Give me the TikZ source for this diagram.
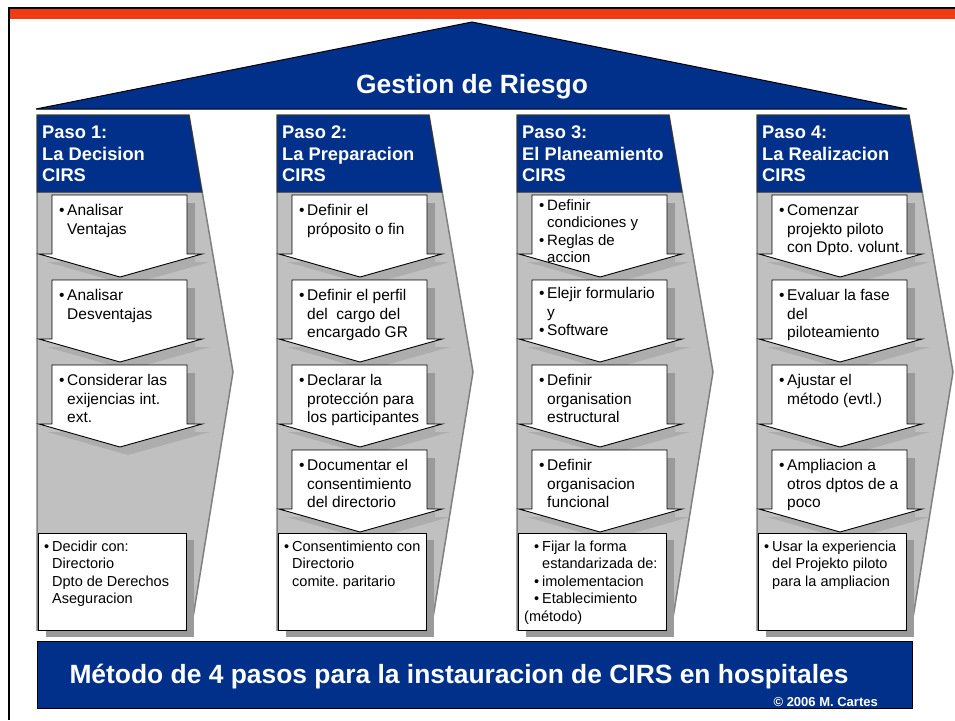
\documentclass[tikz,border=0pt]{standalone}
\usepackage{fontspec}
\setmainfont{Liberation Sans}
\usepackage{tikz}
\usetikzlibrary{positioning,calc}
\frenchspacing
\definecolor{cirsblue}{HTML}{00308A}
\definecolor{cirsred}{HTML}{F03C14}
\definecolor{colgray}{HTML}{C0C0C0}
\definecolor{coledge}{HTML}{808080}
\definecolor{shadegray}{HTML}{9A9A9A}
\definecolor{shadelight}{HTML}{ADADAD}
\tikzstyle{colbody} = [fill=colgray, draw=coledge, line width=1.5pt]
\tikzstyle{colhead} = [fill=cirsblue, draw=gray!40!black, line width=1pt]
\tikzstyle{box1} = [fill=white, draw=black, line width=0.9pt]
\tikzstyle{shade0} = [fill=shadegray]
\tikzstyle{shade1} = [fill=shadelight]
\tikzstyle{txt1} = [anchor=north west, inner sep=0pt, align=left, %
   font=\fontsize{15.5}{18.5}\selectfont]
\tikzstyle{txt2} = [anchor=north west, inner sep=0pt, align=left, %
   font=\fontsize{14.5}{17.5}\selectfont]
\tikzstyle{headtxt} = [anchor=north west, inner sep=0pt, align=left, text=white, %
   font=\bfseries\fontsize{18.3}{21.5}\selectfont]
\tikzstyle{bigtxt} = [anchor=base, inner sep=0pt, text=white, %
   font=\bfseries\fontsize{26.4}{30}\selectfont]
\newcommand{\bl}[1]{\makebox[8pt][l]{\textbullet}#1}
\newcommand{\ind}[1]{\hspace*{8pt}#1}
% column: left x
\newcommand{\paso}[1]{%
   \filldraw[colbody] (#1,115) -- (#1+152,115) -- (#1+196,372) -- (#1+154,630) -- (#1,630) -- cycle;
   \filldraw[colhead] (#1,115) -- (#1+152,115) -- (#1+165,192) -- (#1,192) -- cycle;
}
% arrow box: left x, top y, name, text
\newcommand{\stepbox}[5][]{%
   \fill[shade1] (#2+8,#3+8) -- ++(135,0) -- ++(0,59) -- ++(15,0) -- ++(-82,23) -- ++(-81,-23) -- ++(13,0) -- cycle;
   \fill[shade0] (#2+8,#3+8) rectangle ++(135,51);
   \filldraw[box1] (#2,#3) -- ++(135,0) -- ++(0,59) -- ++(15,0) -- ++(-82,23) -- ++(-81,-23) -- ++(13,0) -- cycle;
   \node[txt1,#1] (#4) at (#2+7,#3+9.5) {#5};
}
% last box: left x, name, text
\newcommand{\finalbox}[3]{%
   \fill[shade0] (#1+8,540) rectangle ++(148,97);
   \filldraw[box1] (#1,533) rectangle ++(148,97);
   \node[txt2] (#2) at (#1+6,540.5) {#3};
}

\begin{document}
\begin{tikzpicture}[x=1pt, y=-1pt]
   \useasboundingbox (0,0) rectangle (955,720);
   \fill[white] (0,0) rectangle (955,720);

% Frame and roof %%%%%%%%%%%%%%%%%%%%%%%%%%%%%%%%%%%%%%%%%%%%%%%%%%%%%
   \fill[black] (8,7) rectangle (955,9);
   \fill[black] (8,7) rectangle (10,720);
   \fill[cirsred] (10,9) rectangle (955,19);
   \filldraw[fill=cirsblue, draw=black, line width=1pt] (36,109) -- (472,22) -- (907,109) -- cycle;
   \node[bigtxt] (Riesgo) at (472,93) {Gestion de Riesgo};

% Columns %%%%%%%%%%%%%%%%%%%%%%%%%%%%%%%%%%%%%%%%%%%%%%%%%%%%%%%%%%%%
   \paso{37}
   \paso{277}
   \paso{517}
   \paso{757}

   \node[headtxt] (Decision) at (42,126) {Paso 1:\\La Decision\\CIRS};
   \node[headtxt] (Preparacion) at (282,126) {Paso 2:\\La Preparacion\\CIRS};
   \node[headtxt] (Planeamiento) at (522,126) {Paso 3:\\El Planeamiento\\CIRS};
   \node[headtxt] (Realizacion) at (762,126) {Paso 4:\\La Realizacion\\CIRS};

% Paso 1 %%%%%%%%%%%%%%%%%%%%%%%%%%%%%%%%%%%%%%%%%%%%%%%%%%%%%%%%%%%%%
   \stepbox{52}{195}{Ventajas}{\bl{Analisar}\\\ind{Ventajas}}
   \stepbox{52}{280}{Desventajas}{\bl{Analisar}\\\ind{Desventajas}}
   \stepbox{52}{365}{Exijencias}{\bl{Considerar las}\\\ind{exijencias int.}\\\ind{ext.}}
   \finalbox{38}{DecidirCon}{\bl{Decidir con:}\\\ind{Directorio}\\\ind{Dpto de Derechos}\\\ind{Aseguracion}}

% Paso 2 %%%%%%%%%%%%%%%%%%%%%%%%%%%%%%%%%%%%%%%%%%%%%%%%%%%%%%%%%%%%%
   \stepbox{292}{195}{Proposito}{\bl{Definir el}\\\ind{próposito o fin}}
   \stepbox{292}{280}{Perfil}{\bl{Definir el perfil}\\\ind{del \ cargo del}\\\ind{encargado GR}}
   \stepbox{292}{365}{Proteccion}{\bl{Declarar la}\\\ind{protección para}\\\ind{los participantes}}
   \stepbox{292}{450}{Documentar}{\bl{Documentar el}\\\ind{consentimiento}\\\ind{del directorio}}
   \finalbox{278}{ConsDirectorio}{\bl{Consentimiento con}\\\ind{Directorio}\\\ind{comite. paritario}}

% Paso 3 %%%%%%%%%%%%%%%%%%%%%%%%%%%%%%%%%%%%%%%%%%%%%%%%%%%%%%%%%%%%%
   \stepbox[yshift=5pt, font=\fontsize{15}{17.3}\selectfont]{532}{195}{Condiciones}{%
      \bl{Definir}\\\ind{condiciones y}\\\bl{Reglas de}\\\ind{accion}}
   \stepbox[yshift=2pt]{532}{280}{Formulario}{\bl{Elejir formulario}\\\ind{y}\\\bl{Software}}
   \stepbox{532}{365}{OrgEstructural}{\bl{Definir}\\\ind{organisation}\\\ind{estructural}}
   \stepbox{532}{450}{OrgFuncional}{\bl{Definir}\\\ind{organisacion}\\\ind{funcional}}
   \finalbox{518}{FormaEst}{\hspace*{10pt}\bl{Fijar la forma}\\\hspace*{10pt}\ind{estandarizada de:}\\%
      \hspace*{10pt}\bl{imolementacion}\\\hspace*{10pt}\bl{Etablecimiento}\\(método)}

% Paso 4 %%%%%%%%%%%%%%%%%%%%%%%%%%%%%%%%%%%%%%%%%%%%%%%%%%%%%%%%%%%%%
   \stepbox{772}{195}{Piloto}{\bl{Comenzar}\\\ind{projekto piloto}\\\ind{con Dpto. volunt.}}
   \stepbox{772}{280}{EvalFase}{\bl{Evaluar la fase}\\\ind{del}\\\ind{piloteamiento}}
   \stepbox{772}{365}{Ajustar}{\bl{Ajustar el}\\\ind{método (evtl.)}}
   \stepbox{772}{450}{Ampliacion}{\bl{Ampliacion a}\\\ind{otros dptos de a}\\\ind{poco}}
   \finalbox{758}{Experiencia}{\bl{Usar la experiencia}\\\ind{del Projekto piloto}\\\ind{para la ampliacion}}

% Banner %%%%%%%%%%%%%%%%%%%%%%%%%%%%%%%%%%%%%%%%%%%%%%%%%%%%%%%%%%%%%
   \filldraw[fill=cirsblue, draw=black, line width=1pt] (37,641) rectangle (912,708);
   \node[bigtxt] (Metodo) at (459,683) {Método de 4 pasos para la instauracion de CIRS en hospitales};
   \node[anchor=base east, inner sep=0pt, text=white, font=\bfseries\fontsize{13}{15}\selectfont]
      (Cartes) at (878,706) {© 2006 M. Cartes};

\end{tikzpicture}
\end{document}
